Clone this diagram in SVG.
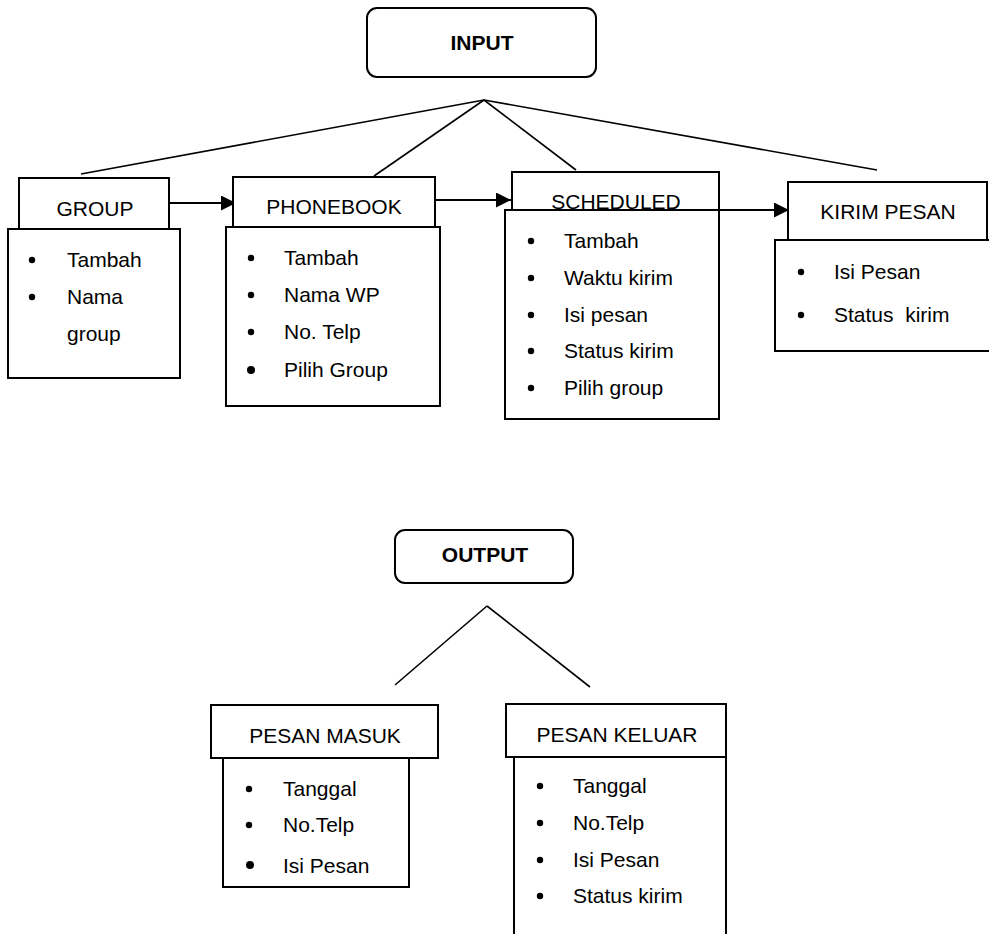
<svg xmlns="http://www.w3.org/2000/svg" width="989" height="934" viewBox="0 0 989 934">
<style>
text{font-family:"Liberation Sans",Arial,sans-serif;font-size:21px;fill:#000;white-space:pre}
.t{font-weight:bold}
.c{text-anchor:middle}
.b{fill:#fff;stroke:#000;stroke-width:2}
.ln{stroke:#000;stroke-width:1.6;fill:none}
.ar{stroke:#000;stroke-width:2.2;fill:none}
.d{fill:#000}
</style>
<defs>
<marker id="ah" viewBox="0 0 10 10" refX="10" refY="5" markerWidth="15" markerHeight="15" markerUnits="userSpaceOnUse" orient="auto"><path d="M0,0 L10,5 L0,10 z" fill="#000"/></marker>
</defs>
<rect width="989" height="934" fill="#fff"/>

<g id="input">
<rect class="b" x="367" y="8" width="229" height="69" rx="10"/>
<text class="t c" x="482" y="50">INPUT</text>
</g>

<g id="output">
<rect class="b" x="395" y="530" width="178" height="53" rx="10"/>
<text class="t c" x="485" y="562">OUTPUT</text>
</g>

<g id="connectors">
<line class="ln" x1="484" y1="100" x2="81" y2="174"/>
<line class="ln" x1="484" y1="100" x2="374" y2="176"/>
<line class="ln" x1="484" y1="100" x2="576" y2="170"/>
<line class="ln" x1="484" y1="100" x2="877" y2="170"/>
<line class="ln" x1="487" y1="606" x2="395" y2="685"/>
<line class="ln" x1="487" y1="606" x2="590" y2="687"/>
<line class="ar" x1="169" y1="203" x2="236" y2="203" marker-end="url(#ah)"/>
<line class="ar" x1="435" y1="200" x2="511" y2="200" marker-end="url(#ah)"/>
<line class="ar" x1="719" y1="210" x2="789" y2="210" marker-end="url(#ah)"/>
</g>

<g id="group">
<rect class="b" x="19" y="178" width="150" height="51"/>
<text class="c" x="95" y="216">GROUP</text>
<rect class="b" x="8" y="229" width="172" height="149"/>
<circle class="d" cx="32" cy="260" r="3.2"/><text x="67" y="267">Tambah</text>
<circle class="d" cx="32" cy="297" r="3.2"/><text x="67" y="304">Nama</text>
<text x="67" y="341">group</text>
</g>

<g id="phonebook">
<rect class="b" x="233" y="177" width="202" height="50"/>
<text class="c" x="334" y="214">PHONEBOOK</text>
<rect class="b" x="226" y="227" width="214" height="179"/>
<circle class="d" cx="251" cy="258" r="3.2"/><text x="284" y="265">Tambah</text>
<circle class="d" cx="251" cy="295" r="3.2"/><text x="284" y="302">Nama WP</text>
<circle class="d" cx="251" cy="332" r="3.2"/><text x="284" y="339">No. Telp</text>
<circle class="d" cx="251" cy="370" r="4"/><text x="284" y="377">Pilih Group</text>
</g>

<g id="scheduled">
<rect class="b" x="512" y="172" width="207" height="38"/>
<rect class="b" x="505" y="210" width="214" height="209"/>
<text class="c" x="616" y="209">SCHEDULED</text>
<circle class="d" cx="531" cy="241" r="3.2"/><text x="564" y="248">Tambah</text>
<circle class="d" cx="531" cy="278" r="3.2"/><text x="564" y="285">Waktu kirim</text>
<circle class="d" cx="531" cy="315" r="3.2"/><text x="564" y="322">Isi pesan</text>
<circle class="d" cx="531" cy="351" r="3.2"/><text x="564" y="358">Status kirim</text>
<circle class="d" cx="531" cy="388" r="3.2"/><text x="564" y="395">Pilih group</text>
</g>

<g id="kirim-pesan">
<rect class="b" x="788" y="182" width="199" height="58"/>
<text class="c" x="888" y="219">KIRIM PESAN</text>
<rect class="b" x="775" y="240" width="230" height="111"/>
<circle class="d" cx="801" cy="272" r="3.2"/><text x="834" y="279">Isi Pesan</text>
<circle class="d" cx="801" cy="315" r="3.2"/><text x="834" y="322" xml:space="preserve">Status  kirim</text>
</g>

<g id="pesan-masuk">
<rect class="b" x="211" y="705" width="227" height="53"/>
<text class="c" x="325" y="743">PESAN MASUK</text>
<rect class="b" x="223" y="758" width="186" height="129"/>
<circle class="d" cx="249" cy="789" r="3.2"/><text x="283" y="796">Tanggal</text>
<circle class="d" cx="249" cy="825" r="3.2"/><text x="283" y="832">No.Telp</text>
<circle class="d" cx="250" cy="865" r="4"/><text x="283" y="873">Isi Pesan</text>
</g>

<g id="pesan-keluar">
<rect class="b" x="506" y="704" width="220" height="53"/>
<text class="c" x="617" y="742">PESAN KELUAR</text>
<rect class="b" x="514" y="757" width="212" height="200"/>
<circle class="d" cx="540" cy="786" r="3.2"/><text x="573" y="793">Tanggal</text>
<circle class="d" cx="540" cy="823" r="3.2"/><text x="573" y="830">No.Telp</text>
<circle class="d" cx="540" cy="860" r="3.2"/><text x="573" y="867">Isi Pesan</text>
<circle class="d" cx="540" cy="896" r="3.2"/><text x="573" y="903">Status kirim</text>
</g>
</svg>
